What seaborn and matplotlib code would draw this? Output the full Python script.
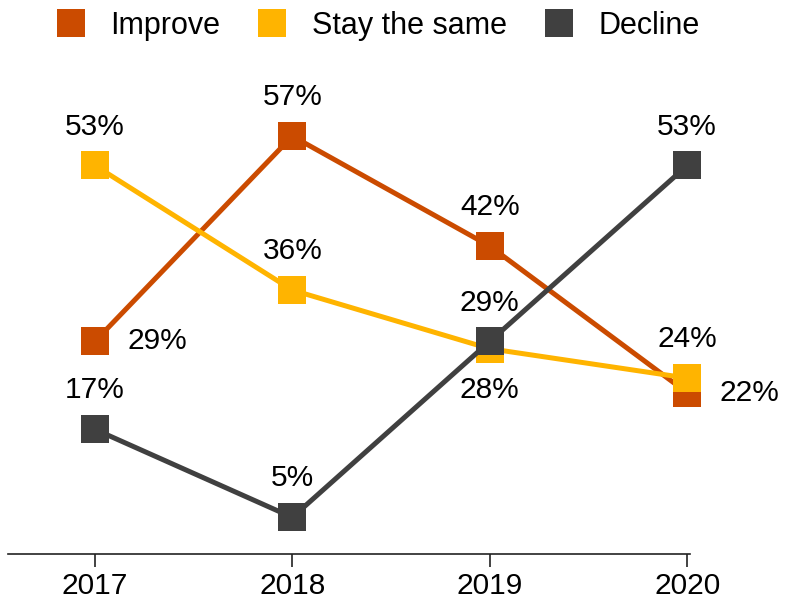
import matplotlib

matplotlib.use("Agg")
import matplotlib.pyplot as plt
import pandas as pd
import seaborn as sns
from matplotlib.lines import Line2D

YEARS = ["2017", "2018", "2019", "2020"]
SERIES = ["Improve", "Stay the same", "Decline"]
IMPROVE = [29, 57, 42, 22]
STAY_SAME = [53, 36, 28, 24]
DECLINE = [17, 5, 29, 53]

COLORS = {"Improve": "#CB4B00", "Stay the same": "#FFB400", "Decline": "#404040"}

# label placement per point: "above", "below", "right"
LABEL_POS = {
    "Improve": ["right", "above", "above", "right"],
    "Stay the same": ["above", "above", "below", "above"],
    "Decline": ["above", "above", "above", "above"],
}

rows = []
for name, vals in zip(SERIES, [IMPROVE, STAY_SAME, DECLINE]):
    for i, v in enumerate(vals):
        rows.append({"year": i, "series": name, "value": v})
df = pd.DataFrame(rows)

sns.set_theme(style="white")
plt.rcParams["font.family"] = ["Liberation Sans", "DejaVu Sans"]

fig = plt.figure(figsize=(7.85, 6.04), dpi=100)
ax = fig.add_axes([0.0102, 0.0828, 0.869, 0.818])

for z, name in enumerate(SERIES):
    sub = df[df["series"] == name]
    sns.lineplot(
        data=sub, x="year", y="value", color=COLORS[name], marker="s",
        markersize=20, markeredgewidth=0, linewidth=3.6, ax=ax,
        legend=False, zorder=2 + z, clip_on=False,
    )

offsets = {"above": (0, 28), "below": (0, -30), "right": (45, 0)}
for name, vals in zip(SERIES, [IMPROVE, STAY_SAME, DECLINE]):
    for i, v in enumerate(vals):
        ax.annotate(
            f"{v}%", (i, v), xytext=offsets[LABEL_POS[name][i]],
            textcoords="offset points", ha="center", va="center",
            fontsize=21.5, color="black", zorder=10,
        )

ax.set_xlim(-0.44, 3.015)
ax.set_ylim(0, 67.4)
ax.set_xticks(range(len(YEARS)))
ax.set_xticklabels(YEARS, fontsize=21.5, color="black")
ax.set_yticks([])
ax.set_xlabel("")
ax.set_ylabel("")
for side in ["left", "right", "top"]:
    ax.spines[side].set_visible(False)
ax.spines["bottom"].set_color("#222222")
ax.spines["bottom"].set_linewidth(1.2)
ax.tick_params(axis="x", bottom=True, length=9, width=1.2, color="#222222", pad=4)

handles = [
    Line2D([], [], linestyle="none", marker="s", markersize=20,
           markerfacecolor=COLORS[n], markeredgewidth=0)
    for n in SERIES
]
fig.legend(
    handles, SERIES, loc="center", bbox_to_anchor=(0.481, 0.957), ncol=3,
    frameon=False, fontsize=22, handlelength=1.0, handletextpad=0.8,
    columnspacing=1.2, labelcolor="black",
)

fig.savefig("out.png", dpi=100)
